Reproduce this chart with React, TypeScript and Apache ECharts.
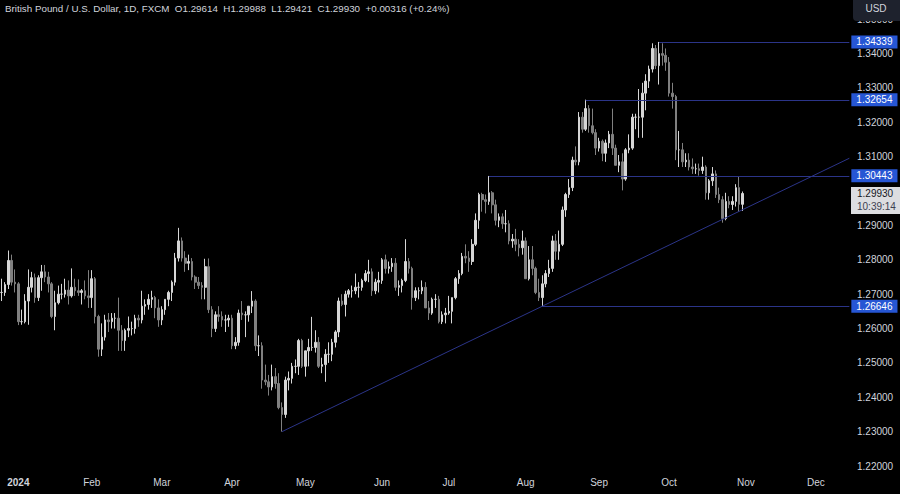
import { useEffect, useRef } from 'react';
import * as echarts from 'echarts';

// ---------- categories (trading days, TradingView style) ----------
const firstCategory = '2023-12-22';
const skippedDays = ['2023-12-25', '2024-01-01'];
const categoryCount = 255;
const monthLabels = ['Jan', 'Feb', 'Mar', 'Apr', 'May', 'Jun', 'Jul', 'Aug', 'Sep', 'Oct', 'Nov', 'Dec'];

// ---------- OHLC rows: [open, high, low, close] ----------
const dec23 = [
  [1.2705, 1.2745, 1.2680, 1.2705],
  [1.2705, 1.2735, 1.2695, 1.2728],
  [1.2728, 1.2827, 1.2715, 1.2798],
  [1.2798, 1.2815, 1.2725, 1.2735],
  [1.2735, 1.2772, 1.2705, 1.2730],
];
const jan24 = [
  [1.2730, 1.2735, 1.2610, 1.2620],
  [1.2620, 1.2655, 1.2611, 1.2620],
  [1.2620, 1.2700, 1.2615, 1.2680],
  [1.2680, 1.2772, 1.2611, 1.2720],
  [1.2720, 1.2765, 1.2705, 1.2748],
  [1.2748, 1.2760, 1.2675, 1.2690],
  [1.2690, 1.2755, 1.2680, 1.2748],
  [1.2748, 1.2785, 1.2710, 1.2765],
  [1.2765, 1.2785, 1.2735, 1.2750],
  [1.2750, 1.2765, 1.2705, 1.2730],
  [1.2730, 1.2735, 1.2630, 1.2635],
  [1.2635, 1.2710, 1.2595, 1.2675],
  [1.2675, 1.2725, 1.2670, 1.2700],
  [1.2700, 1.2730, 1.2685, 1.2700],
  [1.2700, 1.2745, 1.2690, 1.2712],
  [1.2712, 1.2740, 1.2670, 1.2695],
  [1.2695, 1.2775, 1.2690, 1.2720],
  [1.2720, 1.2745, 1.2695, 1.2710],
  [1.2710, 1.2743, 1.2695, 1.2705],
  [1.2705, 1.2715, 1.2670, 1.2710],
  [1.2710, 1.2740, 1.2685, 1.2695],
  [1.2695, 1.2770, 1.2660, 1.2690],
];
const feb24 = [
  [1.2690, 1.2770, 1.2660, 1.2745],
  [1.2745, 1.2750, 1.2615, 1.2635],
  [1.2635, 1.2640, 1.2518, 1.2540],
  [1.2540, 1.2615, 1.2520, 1.2575],
  [1.2575, 1.2640, 1.2565, 1.2625],
  [1.2625, 1.2645, 1.2590, 1.2620],
  [1.2620, 1.2645, 1.2600, 1.2630],
  [1.2630, 1.2645, 1.2600, 1.2630],
  [1.2630, 1.2690, 1.2535, 1.2595],
  [1.2595, 1.2610, 1.2535, 1.2565],
  [1.2565, 1.2600, 1.2535, 1.2595],
  [1.2595, 1.2635, 1.2575, 1.2600],
  [1.2600, 1.2620, 1.2580, 1.2600],
  [1.2600, 1.2640, 1.2585, 1.2630],
  [1.2630, 1.2640, 1.2605, 1.2625],
  [1.2625, 1.2710, 1.2615, 1.2665],
  [1.2665, 1.2685, 1.2640, 1.2670],
  [1.2670, 1.2700, 1.2655, 1.2685],
  [1.2685, 1.2710, 1.2660, 1.2690],
  [1.2690, 1.2695, 1.2630, 1.2660],
  [1.2660, 1.2685, 1.2605, 1.2625],
];
const mar24 = [
  [1.2625, 1.2665, 1.2610, 1.2655],
  [1.2655, 1.2685, 1.2640, 1.2685],
  [1.2685, 1.2710, 1.2665, 1.2705],
  [1.2705, 1.2740, 1.2680, 1.2735],
  [1.2735, 1.2820, 1.2725, 1.2805],
  [1.2805, 1.2893, 1.2795, 1.2855],
  [1.2855, 1.2865, 1.2795, 1.2805],
  [1.2805, 1.2825, 1.2765, 1.2790],
  [1.2790, 1.2815, 1.2770, 1.2795],
  [1.2795, 1.2805, 1.2740, 1.2750],
  [1.2750, 1.2755, 1.2715, 1.2735],
  [1.2735, 1.2750, 1.2715, 1.2725],
  [1.2725, 1.2735, 1.2685, 1.2720],
  [1.2720, 1.2803, 1.2685, 1.2780],
  [1.2780, 1.2804, 1.2645, 1.2655],
  [1.2655, 1.2665, 1.2575, 1.2600],
  [1.2600, 1.2650, 1.2590, 1.2640],
  [1.2640, 1.2665, 1.2620, 1.2635],
  [1.2635, 1.2650, 1.2605, 1.2625],
  [1.2625, 1.2640, 1.2590, 1.2625],
  [1.2625, 1.2640, 1.2605, 1.2630],
];
const apr24 = [
  [1.2630, 1.2640, 1.2540, 1.2550],
  [1.2550, 1.2575, 1.2540, 1.2560],
  [1.2560, 1.2655, 1.2550, 1.2645],
  [1.2645, 1.2680, 1.2625, 1.2640],
  [1.2640, 1.2650, 1.2575, 1.2640],
  [1.2640, 1.2665, 1.2620, 1.2665],
  [1.2665, 1.2709, 1.2645, 1.2680],
  [1.2680, 1.2685, 1.2535, 1.2550],
  [1.2550, 1.2580, 1.2520, 1.2550],
  [1.2550, 1.2560, 1.2425, 1.2450],
  [1.2450, 1.2495, 1.2435, 1.2445],
  [1.2445, 1.2465, 1.2405, 1.2430],
  [1.2430, 1.2495, 1.2420, 1.2460],
  [1.2460, 1.2485, 1.2425, 1.2440],
  [1.2440, 1.2470, 1.2365, 1.2370],
  [1.2370, 1.2385, 1.2300, 1.2350],
  [1.2350, 1.2460, 1.2340, 1.2450],
  [1.2450, 1.2475, 1.2420, 1.2455],
  [1.2455, 1.2500, 1.2440, 1.2490],
  [1.2490, 1.2510, 1.2470, 1.2490],
  [1.2490, 1.2570, 1.2465, 1.2565],
  [1.2565, 1.2570, 1.2485, 1.2490],
];
const may24 = [
  [1.2490, 1.2535, 1.2460, 1.2535],
  [1.2535, 1.2570, 1.2490, 1.2545],
  [1.2545, 1.2634, 1.2535, 1.2545],
  [1.2545, 1.2595, 1.2530, 1.2560],
  [1.2560, 1.2575, 1.2485, 1.2490],
  [1.2490, 1.2515, 1.2470, 1.2495],
  [1.2495, 1.2540, 1.2445, 1.2525],
  [1.2525, 1.2560, 1.2500, 1.2525],
  [1.2525, 1.2570, 1.2505, 1.2560],
  [1.2560, 1.2595, 1.2545, 1.2590],
  [1.2590, 1.2690, 1.2575, 1.2680],
  [1.2680, 1.2700, 1.2665, 1.2670],
  [1.2670, 1.2710, 1.2635, 1.2700],
  [1.2700, 1.2715, 1.2690, 1.2710],
  [1.2710, 1.2725, 1.2690, 1.2710],
  [1.2710, 1.2760, 1.2700, 1.2720],
  [1.2720, 1.2735, 1.2690, 1.2720],
  [1.2720, 1.2745, 1.2710, 1.2740],
  [1.2740, 1.2770, 1.2735, 1.2760],
  [1.2760, 1.2800, 1.2735, 1.2765],
  [1.2765, 1.2775, 1.2695, 1.2710],
  [1.2710, 1.2745, 1.2700, 1.2735],
  [1.2735, 1.2765, 1.2705, 1.2740],
];
const jun24 = [
  [1.2740, 1.2805, 1.2730, 1.2800],
  [1.2800, 1.2815, 1.2760, 1.2775],
  [1.2775, 1.2795, 1.2760, 1.2780],
  [1.2780, 1.2805, 1.2765, 1.2790],
  [1.2790, 1.2805, 1.2710, 1.2720],
  [1.2720, 1.2740, 1.2695, 1.2725],
  [1.2725, 1.2745, 1.2705, 1.2740],
  [1.2740, 1.2860, 1.2735, 1.2795],
  [1.2795, 1.2805, 1.2760, 1.2775],
  [1.2775, 1.2780, 1.2655, 1.2690],
  [1.2690, 1.2720, 1.2680, 1.2710],
  [1.2710, 1.2720, 1.2685, 1.2710],
  [1.2710, 1.2740, 1.2700, 1.2720],
  [1.2720, 1.2735, 1.2660, 1.2660],
  [1.2660, 1.2680, 1.2625, 1.2645],
  [1.2645, 1.2690, 1.2640, 1.2685],
  [1.2685, 1.2700, 1.2660, 1.2685],
  [1.2685, 1.2695, 1.2615, 1.2620],
  [1.2620, 1.2650, 1.2613, 1.2640],
  [1.2640, 1.2660, 1.2615, 1.2645],
];
const jul24 = [
  [1.2645, 1.2695, 1.2640, 1.2650],
  [1.2650, 1.2690, 1.2615, 1.2690],
  [1.2690, 1.2750, 1.2685, 1.2745],
  [1.2745, 1.2770, 1.2730, 1.2760],
  [1.2760, 1.2820, 1.2755, 1.2810],
  [1.2810, 1.2845, 1.2790, 1.2805],
  [1.2805, 1.2825, 1.2765, 1.2795],
  [1.2795, 1.2860, 1.2785, 1.2845],
  [1.2845, 1.2935, 1.2840, 1.2915],
  [1.2915, 1.2995, 1.2890, 1.2990],
  [1.2990, 1.2995, 1.2940, 1.2975],
  [1.2975, 1.2990, 1.2935, 1.2970],
  [1.2970, 1.3044, 1.2960, 1.2995],
  [1.2995, 1.3000, 1.2935, 1.2960],
  [1.2960, 1.2975, 1.2900, 1.2915],
  [1.2915, 1.2935, 1.2895, 1.2925],
  [1.2925, 1.2935, 1.2890, 1.2905],
  [1.2905, 1.2945, 1.2880, 1.2905],
  [1.2905, 1.2915, 1.2845, 1.2855],
  [1.2855, 1.2875, 1.2835, 1.2860],
  [1.2860, 1.2890, 1.2825, 1.2845],
  [1.2845, 1.2860, 1.2810, 1.2835],
  [1.2835, 1.2885, 1.2815, 1.2855],
];
const aug24 = [
  [1.2855, 1.2865, 1.2745, 1.2745],
  [1.2745, 1.2840, 1.2740, 1.2800],
  [1.2800, 1.2840, 1.2755, 1.2775],
  [1.2775, 1.2780, 1.2700, 1.2705],
  [1.2705, 1.2745, 1.2680, 1.2690],
  [1.2690, 1.2755, 1.2665, 1.2730],
  [1.2730, 1.2770, 1.2720, 1.2760],
  [1.2760, 1.2800, 1.2750, 1.2775],
  [1.2775, 1.2870, 1.2765, 1.2855],
  [1.2855, 1.2875, 1.2800, 1.2825],
  [1.2825, 1.2885, 1.2800, 1.2845],
  [1.2845, 1.2955, 1.2840, 1.2945],
  [1.2945, 1.2995, 1.2925, 1.2990],
  [1.2990, 1.3035, 1.2980, 1.3010],
  [1.3010, 1.3100, 1.3000, 1.3090],
  [1.3090, 1.3130, 1.3075, 1.3085],
  [1.3085, 1.3230, 1.3075, 1.3215],
  [1.3215, 1.3230, 1.3170, 1.3180],
  [1.3180, 1.3266, 1.3175, 1.3240],
  [1.3240, 1.3250, 1.3170, 1.3190],
  [1.3190, 1.3240, 1.3165, 1.3170],
  [1.3170, 1.3180, 1.3105, 1.3125],
];
const sep24 = [
  [1.3125, 1.3155, 1.3115, 1.3145],
  [1.3145, 1.3150, 1.3087, 1.3110],
  [1.3110, 1.3150, 1.3085, 1.3140],
  [1.3140, 1.3175, 1.3125, 1.3165],
  [1.3165, 1.3240, 1.3105, 1.3125],
  [1.3125, 1.3135, 1.3075, 1.3075],
  [1.3075, 1.3105, 1.3055, 1.3085],
  [1.3085, 1.3110, 1.3002, 1.3035],
  [1.3035, 1.3125, 1.3030, 1.3120],
  [1.3120, 1.3165, 1.3110, 1.3125],
  [1.3125, 1.3225, 1.3120, 1.3215],
  [1.3215, 1.3225, 1.3180, 1.3215],
  [1.3215, 1.3297, 1.3155, 1.3215],
  [1.3215, 1.3315, 1.3155, 1.3285],
  [1.3285, 1.3340, 1.3235, 1.3320],
  [1.3320, 1.3365, 1.3300, 1.3355],
  [1.3355, 1.3430, 1.3345, 1.3415],
  [1.3415, 1.3425, 1.3355, 1.3365],
  [1.3365, 1.3434, 1.3310, 1.3400],
  [1.3400, 1.3430, 1.3365, 1.3395],
  [1.3395, 1.3415, 1.3350, 1.3375],
];
const oct24 = [
  [1.3375, 1.3390, 1.3275, 1.3285],
  [1.3285, 1.3315, 1.3240, 1.3275],
  [1.3275, 1.3280, 1.3090, 1.3120],
  [1.3120, 1.3175, 1.3070, 1.3120],
  [1.3120, 1.3140, 1.3070, 1.3085],
  [1.3085, 1.3110, 1.3070, 1.3090],
  [1.3090, 1.3110, 1.3060, 1.3070],
  [1.3070, 1.3095, 1.3050, 1.3065],
  [1.3065, 1.3080, 1.3050, 1.3065],
  [1.3065, 1.3080, 1.3045, 1.3060],
  [1.3060, 1.3100, 1.3050, 1.3070],
  [1.3070, 1.3075, 1.2975, 1.2995],
  [1.2995, 1.3035, 1.2975, 1.3030],
  [1.3030, 1.3070, 1.3015, 1.3050],
  [1.3050, 1.3060, 1.2980, 1.2990],
  [1.2990, 1.3010, 1.2965, 1.2975],
  [1.2975, 1.2985, 1.2908, 1.2920],
  [1.2920, 1.2995, 1.2915, 1.2970],
  [1.2970, 1.2985, 1.2950, 1.2961],
  [1.2961, 1.2985, 1.2945, 1.2970],
  [1.2970, 1.3020, 1.2955, 1.3010],
  [1.3010, 1.3043, 1.2940, 1.29614],
  [1.29614, 1.29988, 1.29421, 1.2993],
];

// ---------- annotations ----------
const levelStarts = ['2024-09-26', '2024-08-27', '2024-07-17', '2024-08-08'];
const levelValues = [1.34339, 1.32654, 1.30443, 1.26646];
const trendDates = ['2024-04-22', '2024-08-08'];
const trendValues = [1.2300, 1.2665];

const titleText = 'British Pound / U.S. Dollar, 1D, FXCM  O1.29614  H1.29988  L1.29421  C1.29930  +0.00316 (+0.24%)';
const currencyText = 'USD';
const countdownText = '10:39:14';

const yMin = 1.22;
const yMax = 1.3556;
const yStep = 0.01;

const FONT = "'Liberation Sans', Arial, sans-serif";

function buildCategories(): string[] {
  const out: string[] = [];
  const d = new Date(firstCategory + 'T00:00:00Z');
  while (out.length < categoryCount) {
    const wd = d.getUTCDay();
    const s = d.toISOString().slice(0, 10);
    if (wd !== 0 && wd !== 6 && !skippedDays.includes(s)) out.push(s);
    d.setUTCDate(d.getUTCDate() + 1);
  }
  return out;
}

export default function App() {
  const ref = useRef<HTMLDivElement>(null);

  useEffect(() => {
    document.body.style.margin = '0';
    if (!ref.current) return;
    const chart = echarts.init(ref.current, null, { renderer: 'svg' });

    const categories = buildCategories();
    const rows = [...dec23, ...jan24, ...feb24, ...mar24, ...apr24, ...may24, ...jun24, ...jul24, ...aug24, ...sep24, ...oct24];
    const candles = rows.map(([o, h, l, c]) => [o, c, l, h]);
    const lastCat = categories[categories.length - 1];
    const lastClose = rows[rows.length - 1][3];

    const i0 = categories.indexOf(trendDates[0]);
    const i1 = categories.indexOf(trendDates[1]);
    const slope = (trendValues[1] - trendValues[0]) / (i1 - i0);
    const trendEnd = trendValues[0] + slope * (categories.length - 1 - i0);

    const lineColor = '#2b3488';
    const markData: any[] = levelStarts.map((d, i) => [
      {
        coord: [d, levelValues[i]],
        label: {
          show: true,
          position: 'end',
          distance: 2,
          formatter: levelValues[i].toFixed(5),
          color: '#ffffff',
          backgroundColor: '#2656d4',
          padding: [2, 5, 1, 5],
          fontSize: 10,
          fontFamily: FONT,
        },
      },
      { coord: [lastCat, levelValues[i]] },
    ]);
    markData.push([
      { coord: [trendDates[0], trendValues[0]], label: { show: false } },
      { coord: [lastCat, trendEnd] },
    ]);

    const staticGraphics: any[] = [
      {
        type: 'text',
        left: 5,
        top: 3,
        z: 100,
        style: { text: titleText, fill: '#d1d4dc', font: `9.8px ${FONT}` },
      },
      {
        type: 'rect',
        z: 100,
        shape: { x: 853, y: -5, width: 52, height: 26, r: 4 },
        style: { fill: '#1e222d' },
      },
      {
        type: 'text',
        z: 101,
        x: 876,
        y: 8,
        style: { text: currencyText, fill: '#d1d4dc', font: `10px ${FONT}`, align: 'center', verticalAlign: 'middle' },
      },
    ];

    chart.setOption({
      animation: false,
      backgroundColor: '#000000',
      grid: { left: 0, right: 49, top: 0, bottom: 28, containLabel: false },
      xAxis: {
        type: 'category',
        data: categories,
        boundaryGap: true,
        axisLine: { show: false },
        axisTick: { show: false },
        splitLine: { show: false },
        axisLabel: {
          color: '#d1d4dc',
          fontSize: 10,
          fontFamily: FONT,
          margin: 11,
          interval: (index: number, value: string) => {
            if (index === 0) return false;
            return value.slice(0, 7) !== categories[index - 1].slice(0, 7);
          },
          formatter: (value: string) => {
            const m = Number(value.slice(5, 7)) - 1;
            return m === 0 ? '{y|' + value.slice(0, 4) + '}' : monthLabels[m];
          },
          rich: { y: { fontWeight: 'bold', fontSize: 10, color: '#d1d4dc', fontFamily: FONT } },
        },
      },
      yAxis: {
        type: 'value',
        position: 'right',
        min: yMin,
        max: yMax,
        interval: yStep,
        axisLine: { show: false },
        axisTick: { show: false },
        splitLine: { show: false },
        axisLabel: {
          color: '#d1d4dc',
          fontSize: 10,
          fontFamily: FONT,
          margin: 6,
          showMaxLabel: false,
          // labels hidden behind the last-price tag, as on TradingView
          formatter: (v: number) => (Math.abs(v - lastClose) < 0.004 ? '' : v.toFixed(5)),
        },
      },
      series: [
        {
          type: 'candlestick',
          data: candles,
          barWidth: '62%',
          itemStyle: {
            color: '#d6d6d6',
            color0: '#808080',
            borderColor: '#d6d6d6',
            borderColor0: '#808080',
            borderWidth: 1,
          },
          markLine: {
            silent: true,
            symbol: ['none', 'none'],
            animation: false,
            lineStyle: { color: lineColor, width: 1, type: 'solid', opacity: 1 },
            label: { show: false },
            data: markData,
          },
        },
      ],
      graphic: staticGraphics,
    });

    const py = chart.convertToPixel({ yAxisIndex: 0 }, lastClose) as number;
    chart.setOption({
      graphic: [
        ...staticGraphics,
        {
          type: 'rect',
          z: 100,
          shape: { x: 851, y: py - 6.5, width: 49, height: 27 },
          style: { fill: '#dcdde0' },
        },
        {
          type: 'text',
          z: 101,
          x: 857,
          y: py,
          style: { text: lastClose.toFixed(5), fill: '#131722', font: `10px ${FONT}`, verticalAlign: 'middle' },
        },
        {
          type: 'text',
          z: 101,
          x: 857,
          y: py + 13,
          style: { text: countdownText, fill: '#3d4150', font: `10px ${FONT}`, verticalAlign: 'middle' },
        },
      ],
    });

    return () => chart.dispose();
  }, []);

  return <div ref={ref} style={{ width: 900, height: 494, position: 'fixed', left: 0, top: 0 }} />;
}
